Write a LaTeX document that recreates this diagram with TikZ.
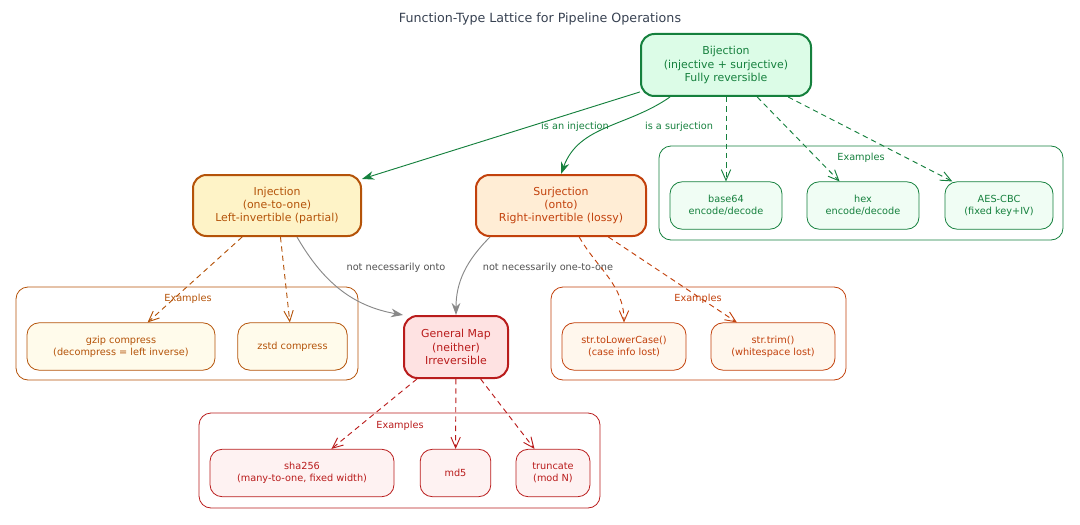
\documentclass[tikz,border=0pt]{standalone}
\usepackage{fontspec}
\setmainfont{DejaVu Sans}
\usetikzlibrary{arrows.meta}
\definecolor{gS}{HTML}{15803D}\definecolor{gF}{HTML}{DCFCE7}\definecolor{gE}{HTML}{F0FDF4}
\definecolor{yS}{HTML}{B45309}\definecolor{yF}{HTML}{FEF3C7}\definecolor{yE}{HTML}{FFFBEB}
\definecolor{oS}{HTML}{C2410C}\definecolor{oF}{HTML}{FFEDD5}\definecolor{oE}{HTML}{FFF7ED}
\definecolor{rS}{HTML}{B91C1C}\definecolor{rF}{HTML}{FEE2E2}\definecolor{rE}{HTML}{FEF2F2}
\definecolor{gr}{HTML}{888888}\definecolor{dg}{HTML}{505050}\definecolor{tt}{HTML}{374151}
\tikzset{
 main/.style={draw=#1S,fill=#1F,text=#1S,line width=1.5pt,rounded corners=10pt,align=center,inner sep=0pt,font=\fontsize{8.2}{10}\selectfont},
 ex/.style={draw=#1S,fill=#1E,text=#1S,line width=0.6pt,rounded corners=9pt,align=center,inner sep=0pt,minimum height=35.5pt,font=\fontsize{7.3}{9}\selectfont},
 clus/.style={draw=#1S,line width=0.6pt,rounded corners=9pt},
 clab/.style={text=#1S,font=\fontsize{7.3}{9}\selectfont},
 elab/.style={text=#1,font=\fontsize{7.3}{9}\selectfont},
 sol/.style={draw=#1,line width=0.7pt,-{Stealth[length=9pt,width=6.5pt]}},
 dsh/.style={draw=#1,line width=0.7pt,dashed,dash pattern=on 4pt off 3pt,-{Straight Barb[length=8pt,width=7pt]}},
}
\begin{document}
\begin{tikzpicture}[x=0.75pt,y=-0.75pt]
\useasboundingbox (0,0) rectangle (1080,524);
\node[text=tt,font=\fontsize{9.5}{11}\selectfont] (title) at (540,19) {Function-Type Lattice for Pipeline Operations};
% clusters
\draw[clus=g] (659,146) rectangle (1063,240);
\node[clab=g] (cb) at (861,158) {Examples};
\draw[clus=y] (16,287) rectangle (358,380);
\node[clab=y] (ci) at (188,299) {Examples};
\draw[clus=o] (551,287) rectangle (846,380);
\node[clab=o] (cs) at (698,299) {Examples};
\draw[clus=r] (199,413) rectangle (600,508);
\node[clab=r] (cg) at (400,426) {Examples};
% main nodes
\node[main=g,minimum width=127.5pt,minimum height=46.5pt] (bij) at (726,65) {Bijection\\(injective + surjective)\\Fully reversible};
\node[main=y,minimum width=126pt,minimum height=45.75pt] (inj) at (277,205.5) {Injection\\(one-to-one)\\Left-invertible (partial)};
\node[main=o,minimum width=127.5pt,minimum height=45.75pt] (sur) at (561,205.5) {Surjection\\(onto)\\Right-invertible (lossy)};
\node[main=r,minimum width=78pt,minimum height=46.5pt] (gen) at (456,347) {General Map\\(neither)\\Irreversible};
% examples
\node[ex=g,minimum width=84pt] (b64) at (726,205.5) {base64\\encode/decode};
\node[ex=g,minimum width=84pt] (hex) at (863,205.5) {hex\\encode/decode};
\node[ex=g,minimum width=81pt] (aes) at (999,205.5) {AES-CBC\\(fixed key+IV)};
\node[ex=y,minimum width=141pt] (gz) at (121,346.5) {gzip compress\\(decompress = left inverse)};
\node[ex=y,minimum width=82pt] (zs) at (292.5,346.5) {zstd compress};
\node[ex=o,minimum width=93pt] (tl) at (624,346.5) {str.toLowerCase()\\(case info lost)};
\node[ex=o,minimum width=93pt] (tr) at (773,346.5) {str.trim()\\(whitespace lost)};
\node[ex=r,minimum width=138pt] (sha) at (302,473) {sha256\\(many-to-one, fixed width)};
\node[ex=r,minimum width=53pt] (md) at (455.5,473) {md5};
\node[ex=r,minimum width=55.5pt] (tc) at (553,473) {truncate\\(mod N)};
% edges
\draw[sol=gS] (bij) -- (inj);
\node[elab=gS] (l1) at (575,127) {is an injection};
\draw[sol=gS] (bij.south west)++(30,0) to[out=-145,in=70] (sur.north);
\node[elab=gS] (l2) at (679,127) {is a surjection};
\draw[sol=gr] (inj.south)++(20,0) to[out=-60,in=170] (gen.north west);
\node[elab=dg] (l3) at (396,268) {not necessarily onto};
\draw[sol=gr] (sur.south west)++(15,0) to[out=-135,in=90] (gen.north);
\node[elab=dg] (l4) at (548,268) {not necessarily one-to-one};
\draw[dsh=gS] (bij.south) -- (b64.north);
\draw[dsh=gS] (bij) -- (hex);
\draw[dsh=gS] (bij) -- (aes);
\draw[dsh=yS] (inj) -- (gz);
\draw[dsh=yS] (inj) -- (zs);
\draw[dsh=oS] (sur) to[out=-60,in=90] (tl.north);
\draw[dsh=oS] (sur) -- (tr);
\draw[dsh=rS] (gen) -- (sha);
\draw[dsh=rS] (gen) -- (md);
\draw[dsh=rS] (gen) -- (tc);
\end{tikzpicture}
\end{document}
